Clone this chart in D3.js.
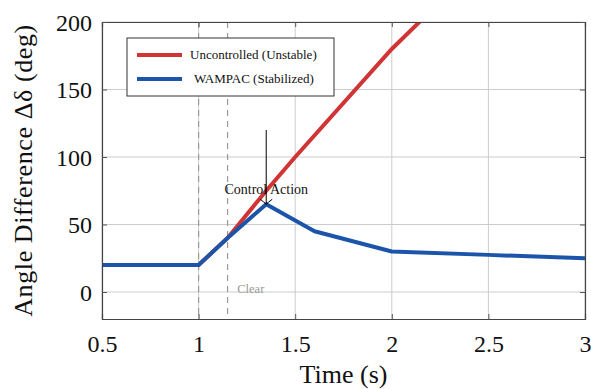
<!DOCTYPE html>
<html>
<head>
<meta charset="UTF-8">
<style>
  body { margin: 0; background: white; }
</style>
</head>
<body>
<svg id="chart" width="591" height="389"></svg>
<script src="https://d3js.org/d3.v7.min.js"></script>
<script>
// data
const uncontrolledT = [0.5, 1, 1.15, 1.35, 1.5, 2, 2.5];
const uncontrolledV = [20, 20, 40, 75, 100, 180, 250];
const wampacT = [0.5, 1, 1.15, 1.35, 1.6, 2, 2.5, 3];
const wampacV = [20, 20, 40, 65, 45, 30, 27.5, 25];
const xTicks = [0.5, 1, 1.5, 2, 2.5, 3];
const yTicks = [0, 50, 100, 150, 200];
const events = [1, 1.15];
const seriesNames = ["Uncontrolled (Unstable)", "WAMPAC (Stabilized)"];
const seriesColors = ["#d03434", "#1c54aa"];

const serif = "'Liberation Serif', 'Times New Roman', serif";
const margin = {left: 102, right: 6, top: 22, bottom: 70};
const width = 591, height = 389;
const svg = d3.select("#chart");

const x = d3.scaleLinear().domain([0.5, 3]).range([margin.left, width - margin.right]);
const y = d3.scaleLinear().domain([-20, 200]).range([height - margin.bottom, margin.top]);

svg.append("clipPath").attr("id", "clip")
  .append("rect")
  .attr("x", x(0.5)).attr("y", y(200))
  .attr("width", x(3) - x(0.5)).attr("height", y(-20) - y(200));

// grid
svg.append("g").selectAll("line").data(xTicks).enter().append("line")
  .attr("x1", d => x(d)).attr("x2", d => x(d))
  .attr("y1", y(200)).attr("y2", y(-20))
  .attr("stroke", "#cccccc").attr("stroke-width", 1);
svg.append("g").selectAll("line").data(yTicks).enter().append("line")
  .attr("x1", x(0.5)).attr("x2", x(3))
  .attr("y1", d => y(d)).attr("y2", d => y(d))
  .attr("stroke", "#cccccc").attr("stroke-width", 1);

// event lines (fault / clear)
svg.append("g").selectAll("line").data(events).enter().append("line")
  .attr("x1", d => x(d)).attr("x2", d => x(d))
  .attr("y1", y(200)).attr("y2", y(-20))
  .attr("stroke", "#999").attr("stroke-width", 1.2)
  .attr("stroke-dasharray", "6,5");

// lines
const line = d3.line().x(d => x(d[0])).y(d => y(d[1]));
const plot = svg.append("g").attr("clip-path", "url(#clip)");
plot.append("path")
  .datum(uncontrolledT.map((t, i) => [t, uncontrolledV[i]]))
  .attr("d", line).attr("fill", "none")
  .attr("stroke", seriesColors[0]).attr("stroke-width", 4);
plot.append("path")
  .datum(wampacT.map((t, i) => [t, wampacV[i]]))
  .attr("d", line).attr("fill", "none")
  .attr("stroke", seriesColors[1]).attr("stroke-width", 4)
  .attr("stroke-linejoin", "round");

// axes (inward ticks on all four sides)
const gx = svg.append("g").attr("transform", `translate(0,${y(-20)})`)
  .call(d3.axisBottom(x).tickValues(xTicks).tickSize(-5).tickFormat(d => d));
svg.append("g").attr("transform", `translate(0,${y(200)})`)
  .call(d3.axisTop(x).tickValues(xTicks).tickSize(-5).tickFormat(""));
const gy = svg.append("g").attr("transform", `translate(${x(0.5)},0)`)
  .call(d3.axisLeft(y).tickValues(yTicks).tickSize(-5));
svg.append("g").attr("transform", `translate(${x(3)},0)`)
  .call(d3.axisRight(y).tickValues(yTicks).tickSize(-5).tickFormat(""));
svg.selectAll(".domain").attr("stroke", "#444").attr("stroke-width", 1.2);
svg.selectAll(".tick line").attr("stroke", "#555");
gx.selectAll("text").attr("font-size", 24).attr("fill", "#111")
  .attr("y", 33).attr("dy", 0);
gy.selectAll("text").attr("font-size", 24).attr("fill", "#111")
  .attr("x", -10).attr("dy", "0.34em");

// titles
svg.append("text")
  .attr("x", (x(0.5) + x(3)) / 2).attr("y", 383)
  .attr("text-anchor", "middle").attr("font-size", 26).attr("fill", "#111")
  .text("Time (s)");
svg.append("text")
  .attr("transform", `translate(32,${(y(200) + y(-20)) / 2}) rotate(-90)`)
  .attr("text-anchor", "middle").attr("font-size", 26).attr("fill", "#111")
  .attr("letter-spacing", 0.6)
  .text("Angle Difference Δδ (deg)");

// annotations
svg.append("line")
  .attr("x1", x(1.35)).attr("x2", x(1.35))
  .attr("y1", y(120)).attr("y2", y(65))
  .attr("stroke", "black").attr("stroke-width", 1);
svg.append("path")
  .attr("d", `M${x(1.35) - 6},${y(65) - 5} Q${x(1.35) - 2},${y(65) - 2} ${x(1.35)},${y(65)} Q${x(1.35) + 2},${y(65) - 2} ${x(1.35) + 6},${y(65) - 5}`)
  .attr("fill", "none").attr("stroke", "black").attr("stroke-width", 1);
svg.append("text")
  .attr("x", x(1.35)).attr("y", y(72.5))
  .attr("text-anchor", "middle").attr("font-size", 14).attr("fill", "#111")
  .text("Control Action");
svg.append("text")
  .attr("x", x(1.2)).attr("y", y(-1))
  .attr("font-size", 12.5).attr("fill", "#999")
  .text("Clear");

// legend
const legend = svg.append("g").attr("transform", "translate(127,38)");
legend.append("rect").attr("width", 207).attr("height", 58)
  .attr("fill", "white").attr("stroke", "#333").attr("stroke-width", 1);
seriesNames.forEach((name, i) => {
  legend.append("line")
    .attr("x1", 10).attr("x2", 55)
    .attr("y1", 17 + i * 24).attr("y2", 17 + i * 24)
    .attr("stroke", seriesColors[i]).attr("stroke-width", 4);
  legend.append("text")
    .attr("x", i === 0 ? 63 : 67).attr("y", 21 + i * 24)
    .attr("font-size", 13).attr("fill", "#111")
    .text(name);
});

svg.selectAll("text").style("font-family", serif);
</script>
</body>
</html>
